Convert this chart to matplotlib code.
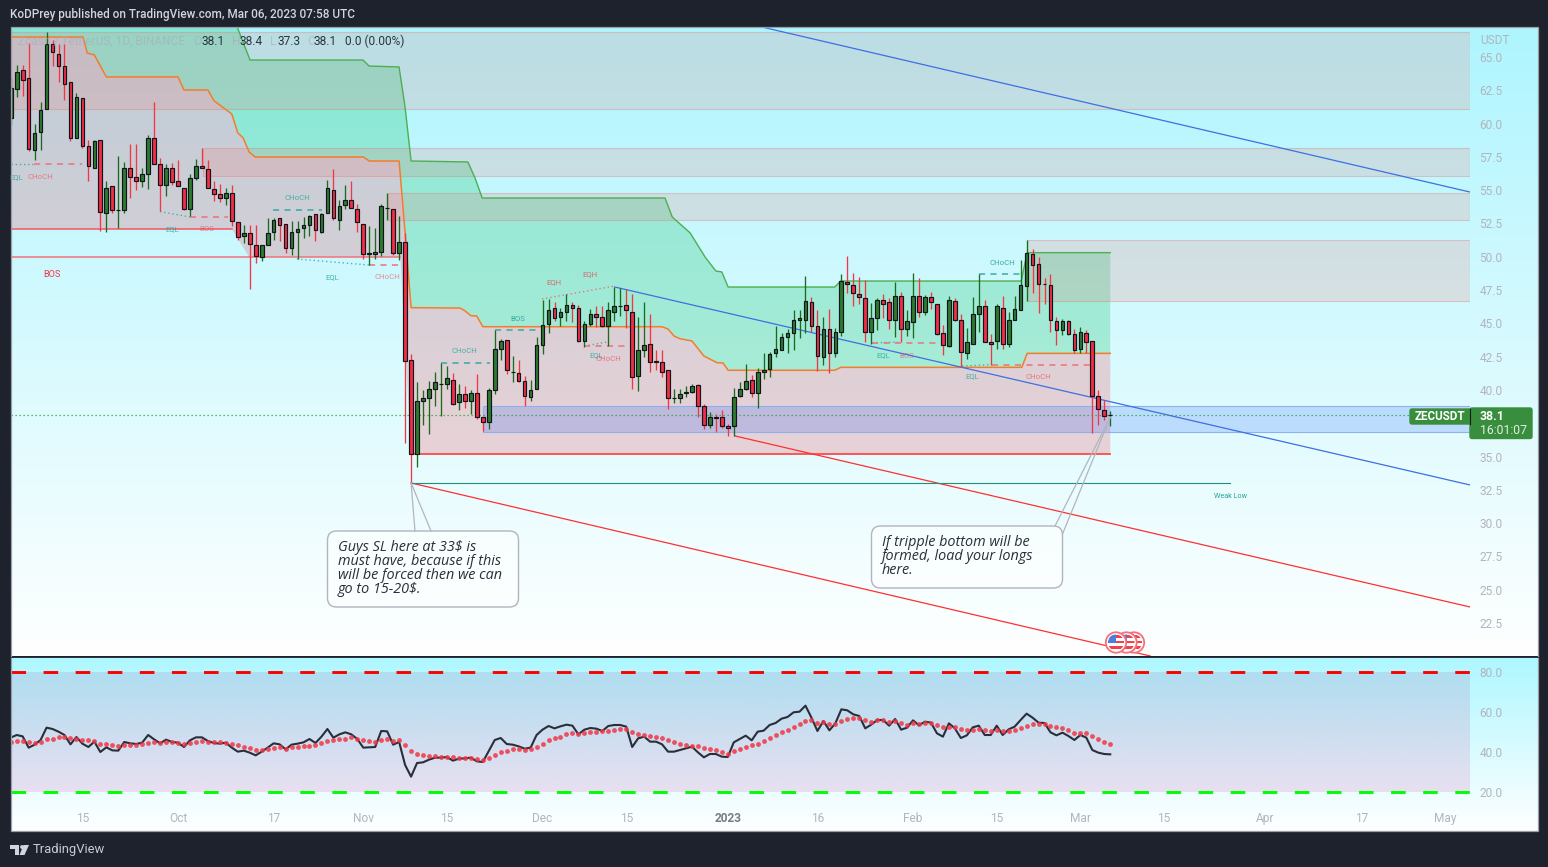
import numpy as np
import pandas as pd
import matplotlib
matplotlib.use("Agg")
import matplotlib.pyplot as plt
from matplotlib.patches import FancyBboxPatch, Rectangle, Circle, Polygon
from matplotlib.colors import to_rgb

# ---------- candle data (ZECUSDT, 1D) ----------
first_day = "2022-09-03"
opens = [60.41,62.58,64.01,63.41,58.01,59.36,61.08,65.95,65.21,64.31,
 63.11,58.91,61.91,58.31,56.66,58.76,53.28,55.31,53.51,53.51,
 56.66,55.98,55.68,56.21,58.91,56.96,55.38,56.66,55.68,55.16,
 53.58,55.91,56.81,56.58,55.08,54.71,54.41,54.78,52.61,51.56,
 51.78,50.88,49.98,50.88,51.86,52.91,52.46,50.66,51.86,52.16,
 52.38,53.21,51.86,53.28,55.01,52.76,53.86,54.26,53.58,52.46,
 50.21,50.21,50.36,53.66,53.58,50.28,51.11,42.23,35.18,39.16,
 39.38,40.06,40.43,40.43,40.73,39.09,39.69,39.16,39.76,37.96,
 37.59,39.98,43.06,43.73,41.33,41.26,40.66,39.46,40.06,43.36,
 44.93,46.13,45.46,45.83,46.36,46.13,43.66,44.93,45.68,45.46,
 44.79,45.83,46.29,46.36,45.83,41.03,42.98,43.43,42.15,42.08,
 41.48,39.38,39.38,39.81,39.83,40.36,38.78,37.36,37.95,37.96,
 37.29,37.29,39.53,40.06,40.73,39.76,41.33,41.56,42.76,42.98,
 43.96,44.26,45.23,45.23,46.58,44.79,42.46,44.56,42.76,44.33,
 48.08,47.86,47.18,46.89,44.33,45.38,46.74,46.58,45.23,47.04,
 44.56,45.09,47.04,45.84,46.96,46.44,44.26,43.29,46.66,45.23,
 42.76,43.44,45.69,46.29,43.59,43.66,46.14,43.44,45.23,45.99,
 47.79,50.19,49.44,47.94,47.86,45.16,44.49,45.16,44.18,43.06,
 44.26,43.66,39.54,38.49,38.1]
closes = [62.66,63.86,63.26,58.06,59.28,61.01,65.95,65.36,64.31,62.96,
 58.91,61.98,58.31,56.81,58.68,53.36,55.16,53.51,53.53,56.66,
 55.98,55.68,56.21,58.91,56.96,55.38,56.66,55.61,55.31,53.58,
 55.91,56.81,56.66,55.16,54.71,54.41,54.78,52.68,51.48,51.78,
 50.93,50.06,50.88,51.78,52.76,52.38,50.66,51.86,52.08,52.38,
 53.06,52.01,53.21,55.16,52.91,53.81,54.26,53.66,52.61,50.21,
 50.28,50.36,53.81,53.68,50.28,51.11,42.14,35.18,39.16,39.38,
 40.06,40.59,40.45,40.89,38.93,39.69,39.16,39.76,37.96,37.59,
 39.98,43.06,43.66,41.48,41.35,40.66,39.53,39.98,43.36,44.86,
 46.03,45.38,45.83,46.36,46.13,43.66,44.93,45.68,45.46,44.79,
 45.99,46.29,46.31,45.99,40.96,42.98,43.36,42.08,42.11,41.33,
 39.38,39.40,39.69,39.83,40.28,38.78,37.36,37.96,37.91,37.29,
 37.13,39.46,40.06,40.66,39.76,41.33,41.48,42.68,43.06,43.96,
 44.26,45.24,45.38,46.66,44.79,42.54,44.56,42.76,44.33,48.16,
 47.93,47.26,46.96,44.33,45.38,46.74,46.44,45.23,47.04,44.56,
 45.16,47.04,45.84,46.96,46.58,44.18,43.36,46.74,45.23,42.84,
 43.59,45.69,46.29,43.59,43.44,46.29,43.44,45.23,46.06,47.86,
 50.26,49.36,47.93,47.92,45.23,44.49,45.16,44.18,42.99,44.33,
 43.59,39.54,38.56,38.04,38.1]
highs = [63.53,64.41,64.41,66.03,59.98,61.61,66.86,66.28,65.95,65.95,
 63.11,62.28,61.91,58.78,58.78,58.76,55.66,55.31,57.58,57.11,
 58.48,58.48,56.66,59.11,61.61,57.41,56.96,57.03,57.28,55.16,
 56.21,57.33,58.16,57.28,55.66,55.46,55.16,55.41,52.61,52.41,
 52.41,52.38,50.88,52.91,52.91,52.91,52.46,52.68,52.66,52.98,
 53.16,53.21,53.28,55.76,56.61,54.28,55.38,55.66,53.98,52.46,
 52.28,52.16,53.98,54.78,53.58,53.03,51.80,42.68,40.61,40.01,
 40.66,41.36,42.01,41.79,41.26,40.43,40.28,40.01,41.19,37.96,
 40.13,44.49,43.81,43.73,42.53,42.23,41.06,40.76,43.96,46.76,
 46.81,46.61,46.13,47.18,46.58,46.36,45.16,46.06,46.29,46.29,
 46.58,47.76,47.63,47.56,47.18,45.46,46.58,45.68,42.98,42.98,
 41.48,40.06,40.06,40.28,40.43,40.46,38.93,38.33,38.18,38.48,
 37.43,40.13,40.59,41.93,41.13,41.63,42.76,42.83,44.81,44.26,
 44.56,45.99,46.01,48.56,46.96,46.01,45.46,46.06,44.64,48.69,
 50.04,48.76,48.46,48.24,46.51,46.89,47.18,46.89,48.14,47.34,
 46.01,48.79,48.39,47.11,47.34,46.44,44.88,47.06,46.89,45.69,
 44.64,46.96,48.71,46.74,44.21,46.44,47.04,45.84,47.04,49.76,
 51.26,50.59,49.96,48.39,48.69,45.46,45.31,45.26,44.56,44.76,
 44.51,43.66,40.01,39.26,38.4]
lows = [59.91,62.03,62.08,57.91,57.28,58.03,61.08,64.33,63.11,61.78,
 58.66,58.91,58.16,55.71,56.66,51.91,51.83,53.28,52.16,53.28,
 54.41,54.98,55.21,55.08,56.96,53.41,54.53,55.41,55.28,53.53,
 53.03,55.73,56.66,55.16,54.16,54.11,53.86,52.33,51.23,51.03,
 47.58,49.53,49.65,50.88,51.28,51.16,50.28,50.16,49.83,51.43,
 51.53,51.16,51.78,53.28,52.78,52.03,53.58,53.66,51.83,49.83,
 49.41,49.83,50.03,52.78,50.16,49.78,36.01,33.01,34.21,37.38,
 36.71,38.83,38.08,40.06,38.86,38.51,38.68,38.23,37.81,36.89,
 37.09,39.71,42.26,41.21,40.58,40.58,38.83,39.16,40.06,42.71,
 44.29,45.16,44.81,45.16,45.11,43.58,43.21,44.81,44.76,44.76,
 43.33,45.21,45.56,44.64,40.09,39.91,42.46,41.33,41.51,41.01,
 38.61,39.01,39.01,39.46,39.76,37.96,37.06,37.13,36.88,37.13,
 36.51,36.51,39.46,39.98,39.46,38.68,40.81,41.01,42.51,42.98,
 42.76,43.01,43.88,44.26,44.33,41.39,41.84,41.24,42.51,44.06,
 47.26,46.34,46.46,43.61,43.46,44.51,45.38,44.56,43.96,43.64,
 44.06,43.93,45.46,45.64,46.08,44.11,42.59,43.21,45.21,41.76,
 42.31,43.44,44.39,43.59,41.89,43.06,43.06,43.21,45.23,45.99,
 46.66,47.26,45.76,46.44,44.33,43.39,44.11,44.11,42.76,42.76,
 42.76,36.76,37.34,37.76,37.3]

# ---------- oscillator data ----------
rsi_line = [47.17,48.5,47.83,42.17,43.67,46,52.17,51.5,50.17,48.5,
 43.83,47.5,44.17,42.5,45.17,40,42.33,40.83,40.67,45,
 44.33,44,44.67,48.5,46.33,44.33,46.17,45,44.67,42.5,
 45.83,47.33,47.33,45.5,44.5,44.17,44.67,42.17,40.17,40.67,
 39.67,38.33,40.17,42.17,44.33,43.83,41.33,43.67,44.17,44.83,
 46.5,44.5,47.67,51.5,47.17,48.83,49.83,48.83,46.5,42.17,
 42.33,42.5,50.5,50.33,43.67,45,33.5,27.67,34.5,34.83,
 36.17,37.17,37.17,37.5,35.67,36.67,36.83,37.17,35.33,35,
 40.5,46,47,44,43.67,42.83,41.67,42.17,48.5,51.17,
 53,51.83,52.83,53.67,53.17,48.83,51.17,52,51.67,50.5,
 53,53.5,53.5,52.67,42.5,46.83,47.67,45.17,45.17,43.83,
 40.17,40.17,41,41.83,42.67,39.83,37.33,39,39,37.67,
 37.5,44.83,46.5,48.17,45.83,50.17,50.67,53.5,54.5,56.67,
 57.5,59.83,60.17,63.17,57.17,50.5,55.5,50.83,54.33,61.33,
 60.83,58.83,58,51.83,53.67,56,56,53.17,56.5,51.17,
 52.17,55.83,53.33,55.17,54.67,49.33,47.67,54.33,51.83,47,
 48.33,52.33,53.17,48.5,48.5,53.17,48.5,51.33,52.67,56,
 59.17,57.17,54.67,54.5,49.83,48.33,49.67,48,46,48.5,
 47.17,41,39.67,39,38.83]
rsi_avg = [45,45.33,45.67,44.83,44.5,44.83,46.33,46.67,47.5,47.67,
 46.83,46.67,46.17,45.83,45.33,44.17,43.83,43.33,42.83,43.5,
 43.33,43.33,44,44.5,44.83,44.5,45,44.83,44.67,43.83,
 44.33,45,45.33,45.17,44.83,44.83,44.67,44.17,43.33,42.67,
 42.17,41.17,41.17,41.67,41.83,42.33,41.67,42.33,42.5,42.83,
 43.17,43.5,44.67,45.33,45.83,46.33,46.5,47.33,46.67,45.83,
 45.33,45,45.83,46.5,45.67,45.83,43.33,40.33,39.17,38.33,
 37.83,37.83,37.5,37.5,37.33,36.83,36.83,36.83,36.67,36.17,
 36.83,38.33,39.83,40.67,41.33,41.33,41.17,41.33,42.33,43.83,
 45.83,46.83,47.67,48.83,49.33,49.17,49.33,49.83,50.17,50.33,
 50.5,50.83,51.33,51.5,49.83,49.17,48.67,48.17,47.33,47,
 45.83,44.83,43.83,43.5,43,42.83,41.83,41.33,40.83,39.83,
 39,40.5,41.33,42.67,43.33,44.17,45.33,47,48.5,50,
 51,52.33,54,55.33,55.83,54.67,54.83,53.83,53.83,55.33,
 56.33,56.83,56.83,55.83,55.17,55.83,55.83,55,55.33,54.33,
 53.67,54.33,53.83,54.33,54.33,53.33,52.33,52.67,52.33,51.33,
 50.83,51,51.5,50.83,50.5,51,50.33,50.67,50.83,51.83,
 52.83,53.83,53.83,53.83,53.17,52.33,51.83,50.83,49.67,49.67,
 49.33,47.83,46.33,44.83,43.83]

# ---------- range lines: candle index / price ----------
upper_idx = [0,35.4,37.9,40.05,58.96,59.97,64.99,65.99,67,76.5,77.7,78.9,109.5,110.7,113.7,116.2,118,119,120.05,137.9,138.9,169.1,170.1,184]
upper_val = [70,70,67.25,64.77,64.77,64.32,64.25,61.25,57.19,57.12,55.92,54.41,54.41,52.99,51.79,49.98,48.93,48.86,47.73,47.73,48.18,48.18,50.31,50.31]
mid_idx = [0.05,12.1,12.8,14,16,28,29,33,34,37,38,38.9,39.9,40.9,59,60,65,66,67,75.2,76,77,78,79,108.95,110,111,112,114,116,118.2,119.2,120.05,137.9,138.9,169.2,170.1,184]
mid_val = [66.5,66.5,65.3,65.15,63.5,63.5,62.52,62.52,61.72,60.72,59.3,58.92,57.87,57.49,57.49,57.19,57.19,51.79,46.18,46.15,45.95,45.58,45.55,44.75,44.75,44.58,44.05,43.85,43.68,42.55,42.05,42.03,41.48,41.48,41.7,41.7,42.75,42.75]
lower_idx = [0.05,37,39.9,65.2,67,184]
lower_val = [52.09,52.09,49.98,49.98,35.19,35.19]

# ---------- zones: start index, top price, bottom price ----------
zone_start = [0.05,32.2,63.2,170.1]
zone_top = [66.88,58.17,54.79,51.26]
zone_bot = [61.10,56.07,52.76,46.68]
blue_start, blue_top, blue_bot = 79.0, 38.80, 36.85

# ---------- trend lines: (i0, p0, i1, p1) ----------
blue_lines = [(125.7,67.25,244.2,54.86),(101.1,47.73,244.2,32.87)]
red_lines = [(67,33.02,190.7,20.03),(121.2,36.55,244.2,23.71)]

# ---------- structure marks ----------
teal_dots = [(0.05,57.0,3.7,57.0),(25,53.39,30,52.99),(47.9,49.83,60,49.38),(96,43.3,100,43.62),(144.2,43.53,148.5,43.6),(159.2,41.8,164.2,41.9)]
red_dots = [(88.9,46.83,101,47.8)]
red_dash = [(3.9,11.9,56.93),(30,36.4,52.99),(60,65.7,49.38),(96,103.7,43.3),(144.2,155,43.53),(164.2,180.6,41.9)]
teal_dash = [(43.9,52.1,53.51),(72,80.2,42.0),(81,88.6,44.5),(162.1,169.8,48.73)]
TEAL, RED = "#26a69a", "#f23645"
struct_text = [("EQL",0.9,56.0,TEAL,.8,5.6),("CHoCH",4.9,56.0,RED,.55,5.6),("BOS",6.9,48.7,RED,1,6.6),
 ("EQL",27,52.09,TEAL,.8,5.6),("BOS",32.9,52.09,RED,.55,5.6),("CHoCH",47.9,54.41,TEAL,.8,5.6),
 ("EQL",53.8,48.48,TEAL,.8,5.6),("CHoCH",63,48.48,RED,.55,5.6),("BOS",84.9,45.33,TEAL,.9,5.6),
 ("CHoCH",75.9,42.93,TEAL,.8,5.6),("EQH",90.9,48.11,RED,.7,5.6),("EQH",97,48.71,RED,.7,5.6),
 ("EQL",98,42.63,TEAL,.8,5.6),("CHoCH",100,42.33,RED,.6,5.6),("EQL",146,42.63,TEAL,.8,5.6),
 ("BOS",150,42.55,RED,.55,5.6),("EQL",160.9,41.0,TEAL,.8,5.6),("CHoCH",171.9,41.0,RED,.6,5.6),
 ("CHoCH",165.9,49.53,TEAL,.9,5.6),("Weak Low",204.1,32.04,TEAL,1,5.2)]

# ---------- axes labels ----------
price_ticks = [65,62.5,60,57.5,55,52.5,50,47.5,45,42.5,40,35,32.5,30,27.5,25,22.5]
osc_ticks = [80,60,40,20]
tick_dates = ["2022-09-15","2022-10-01","2022-10-17","2022-11-01","2022-11-15","2022-12-01","2022-12-15","2023-01-01","2023-01-16","2023-02-01","2023-02-15","2023-03-01","2023-03-15","2023-04-01","2023-04-17","2023-05-01"]
tick_labels = ["15","Oct","17","Nov","15","Dec","15","2023","16","Feb","15","Mar","15","Apr","17","May"]
weak_low = (67,204,33.0)
last_price = 38.1

# ---------- figure ----------
W, H = 1548, 867
fig = plt.figure(figsize=(W/100, H/100), dpi=100, facecolor="#1e222d")
plt.rcParams["font.family"] = "Roboto"
def rect(x0, y0, x1, y1):
    return [x0/W, 1-y1/H, (x1-x0)/W, (y1-y0)/H]

def grad(top, bot, n=256):
    a, b = np.array(to_rgb(top)), np.array(to_rgb(bot))
    t = np.linspace(0, 1, n)[:, None, None]
    return a[None, None, :]*(1-t) + b[None, None, :]*t

bg1 = fig.add_axes(rect(11, 27, 1538, 656)); bg1.axis("off")
bg1.imshow(grad("#aef5fe", "#ffffff"), aspect="auto", extent=(0, 1, 0, 1))
bg2 = fig.add_axes(rect(11, 657, 1538, 831)); bg2.axis("off")
bg2.imshow(grad("#aef7ff", "#ffffff"), aspect="auto", extent=(0, 1, 0, 1))

X_MIN, X_MAX = 0.05, 244.2
ax = fig.add_axes(rect(11, 27, 1470, 656)); ax.patch.set_alpha(0)
ax.set_xlim(X_MIN, X_MAX); ax.set_ylim(20.03, 67.25)
ax2 = fig.add_axes(rect(11, 657, 1470, 805)); ax2.patch.set_alpha(0)
ax2.set_xlim(X_MIN, X_MAX); ax2.set_ylim(13.5, 87.5)

idx = np.arange(len(opens))
o, c, h, l = map(np.array, (opens, closes, highs, lows))

# zones
for s, t, b in zip(zone_start, zone_top, zone_bot):
    ax.add_patch(Rectangle((s, b), X_MAX-s, t-b, fc=(0.94, 0.47, 0.45, 0.19), ec=(0.9, 0.45, 0.45, 0.35), lw=0.8, zorder=1.5))
ax.add_patch(Rectangle((blue_start, blue_bot), X_MAX-blue_start, blue_top-blue_bot, fc=(0.16, 0.38, 1, 0.2), ec="#8fb0ee", lw=0.8, zorder=1.6))

# range fills
ax.fill(np.r_[upper_idx, mid_idx[::-1]], np.r_[upper_val, mid_val[::-1]], color="#10c060", alpha=.25, lw=0, zorder=1)
ax.fill(np.r_[mid_idx, lower_idx[::-1]], np.r_[mid_val, lower_val[::-1]], color=RED, alpha=.21, lw=0, zorder=1)
ax.plot(upper_idx, upper_val, color="#4caf50", lw=1.0, zorder=2)
ax.plot(mid_idx, mid_val, color="#f57c2a", lw=1.1, zorder=2)
ax.plot(lower_idx[:2], lower_val[:2], color="#f5555f", lw=1.1, zorder=2)
ax.plot([X_MIN, lower_idx[3]], [lower_val[2]]*2, color="#f5707a", lw=1.1, zorder=2)
ax.plot(lower_idx[4:], lower_val[4:], color="#ff4a4a", lw=1.3, zorder=2)

# trend lines
for (a0, p0, a1, p1) in blue_lines:
    ax.plot([a0, a1], [p0, p1], color="#3f6fe0", lw=0.9, zorder=2.2)
for (a0, p0, a1, p1) in red_lines:
    ax.plot([a0, a1], [p0, p1], color="#ff3030", lw=0.9, zorder=2.2)
ax.plot(weak_low[:2], [weak_low[2]]*2, color="#1f8f7f", lw=0.8, zorder=2.2)

# structure
for (a0, p0, a1, p1) in teal_dots:
    ax.plot([a0, a1], [p0, p1], color=TEAL, lw=1, ls=(0, (1, 2)), alpha=.8, zorder=2.4)
for (a0, p0, a1, p1) in red_dots:
    ax.plot([a0, a1], [p0, p1], color="#f0707a", lw=1, ls=(0, (1, 2)), zorder=2.4)
for (a0, a1, p) in red_dash:
    ax.plot([a0, a1], [p, p], color="#f0707a", lw=1.1, ls=(0, (4, 3.5)), zorder=2.4)
for (a0, a1, p) in teal_dash:
    ax.plot([a0, a1], [p, p], color=TEAL, lw=1.1, ls=(0, (4, 3.5)), alpha=.9, zorder=2.4)
for s, a, p, col, al, fs in struct_text:
    ax.text(a, p, s, color=col, alpha=al, fontsize=fs, ha="center", va="center", zorder=2.5)

# last price line
ax.axhline(last_price, xmax=(1410-11)/(1470-11), color="#2e9d3c", lw=0.9, ls=(0, (1, 2.2)), zorder=2.6)

# candles
up = c >= o
ax.vlines(idx, l, h, colors=np.where(up, "#1a6b1e", "#f23645"), lw=0.95, zorder=3)
ax.bar(idx, np.abs(c-o), bottom=np.minimum(o, c), width=.62, color=np.where(up, "#2c7b2e", "#f22d44"),
       edgecolor="#10151c", linewidth=0.85, zorder=3.2)

# oscillator
ax2.imshow(grad("#b0ddf0", "#e8e0f0"), aspect="auto", extent=(X_MIN, X_MAX, 20, 80), zorder=1)
ax2.set_xlim(X_MIN, X_MAX); ax2.set_ylim(13.5, 87.5)
ax2.axhline(80, color="#ff0000", lw=2.1, ls=(0, (5, 6)), dash_capstyle="butt", zorder=2)
ax2.axhline(20, color="#00ff00", lw=2.1, ls=(0, (5, 6)), dash_capstyle="butt", zorder=2)
ax2.plot(idx, rsi_line, color="#2a2e39", lw=1.5, zorder=3)
ax2.scatter(idx, rsi_avg, s=12, color="#f23645", alpha=.85, lw=0, zorder=4)

# ticks
for a in (ax, ax2):
    for sp in a.spines.values():
        sp.set_visible(False)
    a.yaxis.tick_right()
ax.set_xticks([])
ax.set_yticks(price_ticks)
ax.set_yticklabels([f"{v:.1f}" for v in price_ticks])
ax2.set_yticks(osc_ticks)
ax2.set_yticklabels([f"{v:.1f}" for v in osc_ticks])
for a in (ax, ax2):
    a.tick_params(axis="y", length=0, pad=6.9, labelcolor="#b2b5be", labelsize=8.6)
    for lab in a.get_yticklabels():
        lab.set_verticalalignment("center_baseline")
        lab.set_y(lab.get_position()[1])
start = pd.Timestamp(first_day)
ax2.set_xticks([(pd.Timestamp(d)-start).days for d in tick_dates])
ax2.set_xticklabels(tick_labels)
ax2.tick_params(axis="x", length=0, pad=5.3, labelcolor="#b2b5be", labelsize=8.6)
for lab in ax2.get_xticklabels():
    if lab.get_text() == "2023":
        lab.set_color("#787b86"); lab.set_fontweight("bold")

# ---------- overlay in image pixels: frame, header, tags, callouts ----------
ov = fig.add_axes([0, 0, 1, 1], zorder=10); ov.patch.set_alpha(0); ov.axis("off")
ov.set_xlim(0, W); ov.set_ylim(H, 0)
ov.add_patch(Rectangle((10.5, 27), 1527.5, 804, fc="none", ec="#9a9ea6", lw=0.9))
ov.plot([11, 1538], [656.5, 656.5], color="#2a2e39", lw=0.7)

ov.text(10, 14.5, "KoDPrey published on TradingView.com, Mar 06, 2023 07:58 UTC", color="#d1d4dc", fontsize=8.5, va="center", fontweight="medium")
ov.text(18, 41.5, "Zcash / TetherUS, 1D, BINANCE", color="#a8acb4", alpha=.6, fontsize=8.6, va="center")
for t, x, col in [("O",193,"#a8acb4"),("38.1",201,"#131722"),("H",232,"#a8acb4"),("38.4",240,"#131722"),("L",270,"#a8acb4"),("37.3",277,"#131722"),("C",307,"#a8acb4"),("38.1",314,"#131722"),("0.0 (0.00%)",345,"#131722")]:
    ov.text(x, 41.5, t, color=col, fontsize=8.6, va="center", alpha=.6 if col == "#a8acb4" else .85)
ov.text(1480, 41, "USDT", color="#b2b5be", fontsize=8.6, va="center")

GREEN = "#388e3c"
ov.add_patch(FancyBboxPatch((1410, 409), 62, 15, boxstyle="round,pad=0,rounding_size=2", fc=GREEN, ec=GREEN, lw=1))
ov.add_patch(FancyBboxPatch((1470, 408), 62, 30.5, boxstyle="round,pad=0,rounding_size=2", fc=GREEN, ec=GREEN, lw=1))
ov.plot([1469.5, 1469.5], [408.5, 424], color="#131722", lw=0.8)
ov.text(1415, 416.8, "ZECUSDT", color="white", fontsize=8.4, va="center", fontweight="bold")
ov.text(1480, 417, "38.1", color="white", fontsize=8.8, va="center", fontweight="bold")
ov.text(1480, 431, "16:01:07", color="#e4ede4", fontsize=8.8, va="center")

def data_px(i, p):
    xp, yp = ax.transData.transform((i, p))
    return ov.transData.inverted().transform((xp, yp))

def callout(x0, y0, x1, y1, tip, a, b, lines, tx, ty):
    ov.add_patch(FancyBboxPatch((x0, y0), x1-x0, y1-y0, boxstyle="round,pad=0,rounding_size=9", fc=(1, 1, 1, .55), ec="#b2b5be", lw=1))
    for pt in (a, b):
        ov.plot([tip[0], pt[0]], [tip[1], pt[1]], color="#b2b5be", lw=0.9)
    for k, s in enumerate(lines):
        ov.text(tx, ty+14*k, s, color="#2a2e39", fontsize=10.4, style="italic", va="center", family="Open Sans")

t1 = ["Guys SL here at 33$ is", "must have, because if this", "will be forced then we can", "go to 15-20$."]
t2 = ["If tripple bottom will be", "formed, load your longs", "here."]
tip1 = data_px(67, 33.02)
tip2 = data_px(184, 37.95)
callout(327.5, 531, 518.5, 607, tip1, (415, 531), (431, 531), t1, 338, 547.5)
callout(871.5, 526, 1062.5, 588, tip2, (1055, 526), (1062.5, 534), t2, 882, 543)

# event flags
for cx in (1134, 1126.5, 1116):
    ov.add_patch(Circle((cx, 642.5), 10.2, fc="white", ec="#f4707a", lw=1.3))
    inner = Circle((cx, 642.5), 8, fc="white", ec="none")
    ov.add_patch(inner)
    for k in range(3):
        r = Rectangle((cx-9, 635+k*5.5), 18, 2.8, fc="#f0424a", ec="none")
        ov.add_patch(r); r.set_clip_path(inner)
    r = Rectangle((cx-9, 634), 9, 8.5, fc="#4a7fe0", ec="none")
    ov.add_patch(r); r.set_clip_path(inner)

# TradingView brand
LOGO = "#d1d4dc"
ov.add_patch(Polygon([(10,845),(19,845),(19,855),(15,855),(15,849),(10,849)], fc=LOGO, ec="none"))
ov.add_patch(Circle((22, 847), 1.9, fc=LOGO, ec="none"))
ov.add_patch(Polygon([(23.5,845),(29,845),(24.5,855),(19.5,855)], fc=LOGO, ec="none"))
ov.text(33, 850, "TradingView", color="#c8ccd4", fontsize=9.4, va="center")

fig.savefig("out.png", dpi=100, facecolor=fig.get_facecolor())
